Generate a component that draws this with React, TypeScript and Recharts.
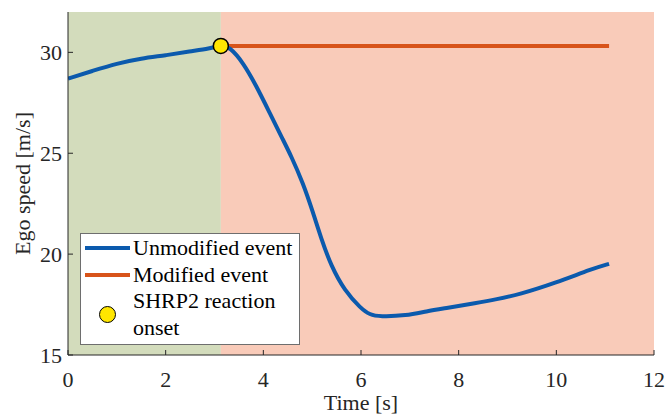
import React from "react";
import {
  ComposedChart,
  Line,
  Scatter,
  XAxis,
  YAxis,
  ReferenceArea,
} from "recharts";

const FONT = "'Liberation Serif', 'Times New Roman', Times, serif";
const AXIS_COLOR = "#262626";
const BLUE = "#0b5aad";
const ORANGE = "#d8541a";
const GREEN_BG = "#d3dcbc";
const PINK_BG = "#f9cbb9";

const timeTicks = [0, 2, 4, 6, 8, 10, 12];
const speedTicks = [15, 20, 25, 30];

// unmodified event (blue)
const unmodTime = [
  0, 0.5, 1.0, 1.5, 2.0, 2.5, 2.9, 3.13, 3.31, 3.59, 3.86, 4.13, 4.4, 4.57,
  4.81, 5.02, 5.19, 5.39, 5.66, 6.0, 6.18, 6.38, 6.93, 7.34, 7.75, 8.36, 8.77,
  9.24, 9.99, 10.74, 11.08,
];
const unmodSpeed = [
  28.7, 29.08, 29.45, 29.7, 29.85, 30.05, 30.18, 30.36, 30.28, 29.48, 28.32,
  27.0, 25.68, 24.86, 23.54, 22.05, 20.73, 19.41, 18.2, 17.3, 17.0, 16.9,
  16.95, 17.17, 17.33, 17.58, 17.76, 18.0, 18.58, 19.28, 19.52,
];

// modified event (orange)
const modTime = [3.13, 11.08];
const modSpeed = [30.32, 30.32];

// SHRP2 reaction onset
const onsetTime = 3.13;
const onsetSpeed = 30.32;

const unmodData = unmodTime.map((t, i) => ({ t, v: unmodSpeed[i] }));
const modData = modTime.map((t, i) => ({ t, v: modSpeed[i] }));
const onsetData = [{ t: onsetTime, v: onsetSpeed }];

const legendItems = [
  { label: ["Unmodified event"], kind: "line", color: BLUE },
  { label: ["Modified event"], kind: "line", color: ORANGE },
  { label: ["SHRP2 reaction", "onset"], kind: "dot", color: "#ffe600" },
];

function LegendBox() {
  return (
    <div
      style={{
        position: "absolute",
        left: 80,
        top: 233,
        width: 220,
        boxSizing: "border-box",
        background: "#fff",
        border: "1px solid #6e6e6e",
        padding: "1px 0 3px 0",
        fontFamily: FONT,
        fontSize: 22,
        color: "#000",
        lineHeight: "26.5px",
      }}
    >
      {legendItems.map((it) => (
        <div key={it.label[0]} style={{ display: "flex", alignItems: "center" }}>
          <div
            style={{
              width: 52,
              display: "flex",
              justifyContent: "center",
              flexShrink: 0,
            }}
          >
            {it.kind === "line" ? (
              <div style={{ width: 45, height: 4, background: it.color }} />
            ) : (
              <div
                style={{
                  width: 15,
                  height: 15,
                  borderRadius: "50%",
                  background: it.color,
                  border: "1.5px solid #000",
                }}
              />
            )}
          </div>
          <div>
            {it.label.map((l) => (
              <div key={l}>{l}</div>
            ))}
          </div>
        </div>
      ))}
    </div>
  );
}

const OnsetDot = (props: any) => {
  const { cx, cy } = props;
  return <circle cx={cx} cy={cy} r={7.5} fill="#ffe600" stroke="#000" strokeWidth={1.5} />;
};

export default function App() {
  const tickStyle = { fill: AXIS_COLOR, fontSize: 22, fontFamily: FONT };
  return (
    <div style={{ position: "absolute", left: 0, top: 0, width: 667, height: 414, background: "#fff" }}>
      <ComposedChart
        width={667}
        height={414}
        margin={{ top: 12, right: 13, bottom: 0, left: 8 }}
      >
        <ReferenceArea x1={0} x2={onsetTime} y1={15} y2={32} fill={GREEN_BG} fillOpacity={1} stroke="none" />
        <ReferenceArea x1={onsetTime} x2={12} y1={15} y2={32} fill={PINK_BG} fillOpacity={1} stroke="none" />
        <XAxis
          dataKey="t"
          type="number"
          domain={[0, 12]}
          ticks={timeTicks}
          allowDataOverflow
          height={59}
          tickSize={-5}
          tickMargin={21}
          tick={tickStyle}
          stroke={AXIS_COLOR}
          label={(props: any) => {
            const vb = props.viewBox;
            return (
              <text
                x={vb.x + vb.width / 2}
                y={vb.y + 55}
                textAnchor="middle"
                fontSize={22}
                fontFamily={FONT}
                fill={AXIS_COLOR}
              >
                Time [s]
              </text>
            );
          }}
        />
        <YAxis
          dataKey="v"
          type="number"
          domain={[15, 32]}
          ticks={speedTicks}
          allowDataOverflow
          width={60}
          tickSize={-5}
          tickMargin={11}
          tick={tickStyle}
          stroke={AXIS_COLOR}
          label={(props: any) => {
            const vb = props.viewBox;
            const cx = 30;
            const cy = vb.y + vb.height / 2;
            return (
              <text
                x={cx}
                y={cy}
                transform={`rotate(-90 ${cx} ${cy})`}
                textAnchor="middle"
                fontSize={22}
                fontFamily={FONT}
                fill={AXIS_COLOR}
              >
                Ego speed [m/s]
              </text>
            );
          }}
        />
        <Line
          data={modData}
          dataKey="v"
          type="linear"
          stroke={ORANGE}
          strokeWidth={4}
          dot={false}
          isAnimationActive={false}
        />
        <Line
          data={unmodData}
          dataKey="v"
          type="basis"
          stroke={BLUE}
          strokeWidth={4}
          dot={false}
          isAnimationActive={false}
        />
        <Scatter
          data={onsetData}
          dataKey="v"
          shape={OnsetDot}
          isAnimationActive={false}
        />
      </ComposedChart>
      <LegendBox />
    </div>
  );
}
